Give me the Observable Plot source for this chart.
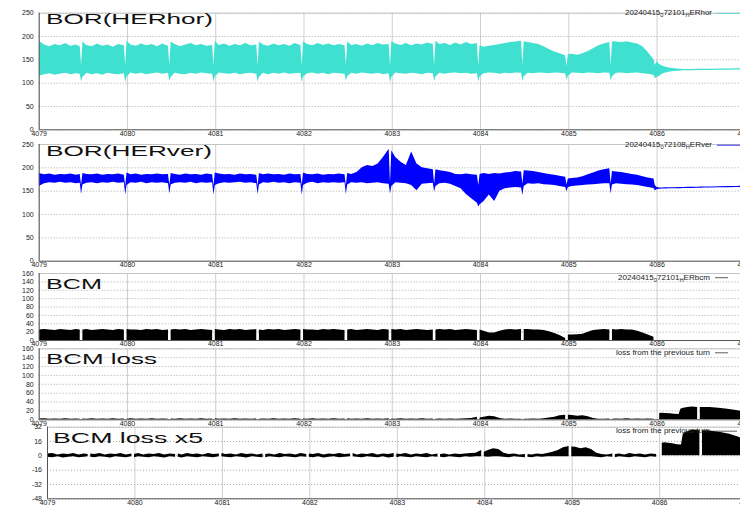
<!DOCTYPE html>
<html><head><meta charset="utf-8">
<script src="https://cdn.jsdelivr.net/npm/d3@7"></script>
<script src="https://cdn.jsdelivr.net/npm/@observablehq/plot@0.6"></script>
<style>
html,body{margin:0;padding:0;background:#fff;overflow:hidden;}
#wrap{position:relative;width:740px;height:507px;overflow:hidden;background:#fff;}
#wrap svg{position:absolute;left:0;}
</style></head><body><div id="wrap"></div>
<script>
// ---- data ----
const xTicks = [4079,4080,4081,4082,4083,4084,4085,4086,4087];
const borTicks = [0,50,100,150,200,250];
const bcmTicks = [0,20,40,60,80,100,120,140,160];
const x5Ticks = [-48,-32,-16,0,16,32];
const titles = ["BOR(HERhor)","BOR(HERver)","BCM","BCM loss","BCM loss x5"];
const legendLabels = ["20240415_072101_HERhor","20240415_072108_HERver","20240415_072101_HERbcm","loss from the previous turn","loss from the previous turn"];

const turn = [
 4079.00,4079.06,4079.12,4079.18,4079.24,4079.30,4079.36,4079.42,4079.465,
 4079.48,4079.495,4079.54,4079.60,4079.66,4079.72,4079.78,4079.84,4079.90,4079.965,
 4079.98,4079.995,4080.04,4080.10,4080.16,4080.22,4080.28,4080.34,4080.40,4080.465,
 4080.48,4080.495,4080.54,4080.60,4080.66,4080.72,4080.78,4080.84,4080.90,4080.965,
 4080.98,4080.995,4081.04,4081.10,4081.16,4081.22,4081.28,4081.34,4081.40,4081.465,
 4081.48,4081.495,4081.54,4081.60,4081.66,4081.72,4081.78,4081.84,4081.90,4081.965,
 4081.98,4081.995,4082.04,4082.10,4082.16,4082.22,4082.28,4082.34,4082.40,4082.465,
 4082.48,4082.495,4082.54,4082.60,4082.66,4082.72,4082.78,4082.84,4082.90,4082.965,
 4082.98,4082.995,4083.04,4083.10,4083.16,4083.22,4083.28,4083.34,4083.40,4083.465,
 4083.48,4083.495,4083.54,4083.60,4083.66,4083.72,4083.78,4083.84,4083.90,4083.965,
 4083.98,4083.995,4084.04,4084.10,4084.16,4084.22,4084.28,4084.34,4084.40,4084.465,
 4084.48,4084.495,4084.54,4084.60,4084.66,4084.72,4084.78,4084.84,4084.90,4084.965,
 4084.98,4084.995,4085.04,4085.10,4085.16,4085.22,4085.28,4085.34,4085.40,4085.465,
 4085.48,4085.495,4085.54,4085.60,4085.66,4085.72,4085.78,4085.84,4085.90,4085.965,
 4085.98,
 4086.00,4086.03,4086.06,4086.10,4086.15,4086.20,4086.25,4086.27,4086.30,4086.35,4086.40,4086.46,4086.47,4086.49,4086.55,4086.60,4086.70,4086.80,4086.90,4087.00,4087.10
];

const horHi = [
 190,182,178,183,180,185,179,182,178,
 138,188,181,178,184,179,182,177,183,180,
 136,190,182,179,184,180,183,178,184,179,
 138,188,183,178,182,185,180,183,179,181,
 137,190,181,184,179,183,180,185,180,182,
 136,188,182,179,184,180,183,179,185,181,
 137,189,183,180,185,181,184,180,183,180,
 138,188,181,183,179,184,180,185,182,183,
 137,189,184,181,185,180,184,182,186,183,
 138,190,183,185,181,186,182,187,183,185,
 136,180,177,179,181,183,185,187,188,190,
 138,189,187,185,183,178,172,167,163,159,
 135,161,162,160,163,168,174,180,184,187,
 136,189,188,187,189,186,184,178,166,150,
 138,
 146,140,137,134,132,131,130,130,129.5,129.5,129.5,129.8,129.8,129.8,130,130,130.3,130.5,130.8,131,131
];
const horLo = [
 115,118,120,117,119,121,118,120,119,
 103,112,121,118,120,117,121,119,118,120,
 101,113,122,119,121,118,120,122,119,121,
 104,112,121,119,118,121,119,122,120,119,
 102,114,122,120,119,121,118,120,121,119,
 103,112,121,118,121,119,122,119,120,121,
 101,113,120,122,119,121,118,121,120,119,
 104,114,121,119,122,120,119,121,118,120,
 101,112,122,120,119,121,120,118,121,120,
 104,113,121,119,121,122,120,121,119,120,
 103,113,120,122,121,119,121,120,122,121,
 104,114,121,120,122,121,120,122,121,120,
 106,115,122,121,120,122,121,120,122,121,
 105,114,121,122,120,121,122,120,119,117,
 110,
 112,115,119,122,124,125,125.5,126,126.5,126.5,126.7,127,127,127,127.2,127.3,127.6,127.8,128,128.3,128.3
];
const verHi = [
 188,185,187,184,186,185,187,184,186,
 162,188,186,185,187,184,186,185,187,184,
 160,189,185,187,184,186,185,187,185,186,
 162,188,186,184,187,185,186,184,187,185,
 161,189,187,185,186,184,187,185,186,184,
 160,188,185,187,185,186,184,187,185,186,
 162,189,186,185,187,184,186,185,187,185,
 161,188,186,190,200,205,203,208,222,240,
 168,236,222,212,205,234,208,200,198,196,
 165,196,194,192,190,186,185,187,185,184,
 162,186,188,186,188,187,189,190,192,191,
 165,194,193,192,190,188,186,184,182,180,
 163,176,177,178,181,185,189,193,196,198,
 165,192,191,190,188,186,184,181,178,176,
 162,
 158,157,157,157.2,157.4,157.6,157.8,157.8,158,158.2,158.4,158.6,158.6,158.7,159,159.2,159.5,159.8,160.2,160.5,160.6
];
const verLo = [
 160,166,168,167,169,167,168,166,167,
 143,163,167,168,166,168,167,169,167,168,
 142,162,168,167,169,166,168,167,168,166,
 144,163,167,168,167,169,166,168,167,168,
 142,162,166,168,167,168,169,167,168,166,
 143,163,168,167,169,167,168,166,168,167,
 142,162,167,169,166,168,167,168,167,168,
 143,163,168,167,168,166,167,168,166,165,
 144,160,168,167,166,162,151,165,166,167,
 148,160,166,167,165,160,155,143,134,124,
 116,121,128,142,128,150,155,157,158,157,
 141,160,166,165,166,164,163,162,160,158,
 149,158,160,161,162,163,164,165,166,166,
 144,163,166,165,164,163,162,160,158,156,
 151,
 153,154,154.5,154.8,155,155.2,155.4,155.4,155.6,155.8,156,156.2,156.2,156.3,156.6,156.8,157.1,157.4,157.8,158.1,158.2
];
const bcm = [
 25,26,25,24,26,25,24,26,25,
 null,25,26,24,25,26,25,24,26,25,
 null,26,25,25,24,26,25,26,24,25,
 null,25,26,25,26,24,25,26,25,24,
 null,26,25,24,26,25,26,24,25,26,
 null,25,24,26,25,26,24,25,26,25,
 null,26,25,25,24,26,25,26,25,24,
 null,25,26,24,25,26,25,24,26,25,
 null,26,25,26,24,25,26,25,24,25,
 null,25,26,25,26,24,25,26,25,24,
 null,25,22,18,18,22,25,26,25,26,
 null,26,26,25,25,24,21,17,12,5,
 null,13,13,14,15,20,24,25,26,25,
 null,26,25,26,25,25,22,18,13,8,
 null,
 null,null,null,null,null,null,null,null,null,null,null,null,null,null,null,null,null,null,null,null,null
];
const lossHi = [
 2,2.5,1,2,1.5,2.5,1,2,1.5,
 null,2,1.5,2.5,1,2,1.5,2.5,1,2,
 null,1.5,2.5,1,2,1.5,2.5,1,2,1.5,
 null,2,1,2.5,1.5,2,1,2.5,1.5,2,
 null,2.5,1.5,2,1,2.5,1.5,2,1,2,
 null,1.5,2,1,2.5,1.5,2,1,2.5,1.5,
 null,2,1.5,2.5,1,2,1.5,2.5,1.5,2,
 null,2.5,1,2,1.5,2.5,1,2,1.5,2.5,
 null,2,1.5,2.5,1,2,1.5,2.5,1,2,
 null,1.5,2,1,2,1.5,2,2.5,3,6,
 null,4,6,8,7,3,1.5,2,1,1.5,
 null,1.5,1,2,1.5,2.5,4,6,9,10.5,
 null,10,9.5,8,9,7,3,1.5,1,2,
 null,1.5,2,1,2.5,1.5,2,1,2,1.5,
 null,
 null,14,14.5,14,13.5,12.5,12,24,26,28,29,28,null,28,28,27.5,26,24,21,17,15
];
const lossLo = [
 -1.5,-2,-1,-2.5,-1.5,-1,-2,-1.5,-1,
 null,-1.5,-2,-1,-1.5,-2.5,-1,-1.5,-2,-1,
 null,-2,-1,-1.5,-2,-1,-1.5,-2.5,-1,-1.5,
 null,-1.5,-2.5,-1,-1.5,-2,-1,-1.5,-2,-1,
 null,-1,-1.5,-2,-1,-1.5,-2.5,-1,-1.5,-2,
 null,-2,-1,-1.5,-2,-1,-1.5,-2,-1,-1.5,
 null,-1.5,-2,-1,-2.5,-1.5,-1,-2,-1.5,-1,
 null,-1,-1.5,-2,-1,-1.5,-2,-1,-2.5,-1.5,
 null,-2,-1,-1.5,-2,-1,-1.5,-2,-1,-1.5,
 null,-1.5,-2,-1,-1.5,-2,-1,-1.5,-1,-1,
 null,-1,-1.5,-1,-1,-1.5,-2,-1,-1.5,-2,
 null,-1.5,-2,-1,-1.5,-1,-1,-1,-1,-1,
 null,-1,-1,-1,-1,-1,-1.5,-2,-1,-1.5,
 null,-2,-1,-1.5,-2,-1,-1.5,-2,-1,-1.5,
 null,
 null,0,0,0,0,0,0,0,0,0,0,0,null,0,0,0,0,0,0,0,0
];

const rows = turn.map((t, i) => ({t, horHi: horHi[i], horLo: horLo[i], verHi: verHi[i], verLo: verLo[i], bcm: bcm[i], lossHi: lossHi[i], lossLo: lossLo[i]}));

// ---- rendering ----
const FONT = "'Liberation Sans', Arial, Helvetica, sans-serif";
const wrap = document.getElementById("wrap");

function panel({top, height, mt, mb, ml, mr, yTicks, marks}) {
  const yDomain = [yTicks[0], yTicks[yTicks.length - 1]];
  const svg = Plot.plot({
    width: 750, height,
    marginTop: mt, marginBottom: mb, marginLeft: ml, marginRight: mr,
    style: {background: "transparent", maxWidth: "none", fontFamily: FONT, fontSize: "7px", color: "#222"},
    x: {domain: [xTicks[0], xTicks[xTicks.length - 1]], label: null},
    y: {domain: yDomain, label: null},
    marks: [
      Plot.gridX(xTicks, {stroke: "#cfcfcf", strokeOpacity: 1}),
      Plot.gridY(yTicks, {stroke: "#a8a8a8", strokeOpacity: 1, strokeDasharray: "1,2"}),
      ...marks,
      Plot.ruleY([yDomain[1]], {stroke: "#c4c4c4"}),
      Plot.ruleY([yDomain[0]], {stroke: "#555"}),
      Plot.ruleX([xTicks[0]], {stroke: "#555"}),
      Plot.axisX(xTicks, {label: null, tickSize: 0, tickPadding: 1, tickFormat: d => String(d), fill: "#222"}),
      Plot.axisY(yTicks, {label: null, tickSize: 0, tickPadding: 5.5, tickFormat: d => String(d), fill: "#222"})
    ]
  });
  svg.style.top = top + "px";
  wrap.appendChild(svg);
}

panel({top: 0, height: 140, mt: 12.7, mb: 10.7, ml: 38.7, mr: 5.2, yTicks: borTicks,
  marks: [Plot.areaY(rows, {x: "t", y1: "horLo", y2: "horHi", fill: "#40e0d0", clip: true})]});
panel({top: 132, height: 140, mt: 12, mb: 11.3, ml: 38.7, mr: 5.2, yTicks: borTicks,
  marks: [Plot.areaY(rows, {x: "t", y1: "verLo", y2: "verHi", fill: "#0000ff", clip: true})]});
panel({top: 262, height: 88, mt: 11, mb: 10, ml: 38.7, mr: 5.2, yTicks: bcmTicks,
  marks: [Plot.areaY(rows, {x: "t", y1: 0, y2: "bcm", fill: "#000", clip: true})]});
panel({top: 338, height: 92, mt: 10.3, mb: 10.7, ml: 38.7, mr: 5.2, yTicks: bcmTicks,
  marks: [Plot.areaY(rows, {x: "t", y1: "lossLo", y2: "lossHi", fill: "#000", clip: true})]});
panel({top: 416, height: 91, mt: 10.7, mb: 8.7, ml: 47, mr: 3.4, yTicks: x5Ticks,
  marks: [Plot.areaY(rows, {x: "t", y1: "lossLo", y2: "lossHi", fill: "#000", clip: true})]});

// ---- titles and keys overlay ----
const ov = d3.select(wrap).append("svg").attr("width", 740).attr("height", 507).style("top", "0px");
const titlePos = [{x: 46, y: 23.5, w: 167}, {x: 46, y: 155.7, w: 166}, {x: 46, y: 288.5, w: 56}, {x: 46, y: 364, w: 111}, {x: 53, y: 442.5, w: 150}];
titles.forEach((s, i) => {
  const p = titlePos[i];
  ov.append("text").attr("x", p.x).attr("y", p.y).attr("font-family", FONT).attr("font-size", 15)
    .attr("fill", "#111").attr("textLength", p.w).attr("lengthAdjust", "spacingAndGlyphs").text(s);
});
const keyPos = [
  {x: 625, y: 15, w: 87, c: "#40e0d0", l1: 717, l2: 745, ly: 13.3},
  {x: 625, y: 147.3, w: 87, c: "#0000ff", l1: 717, l2: 745, ly: 145.2},
  {x: 618, y: 280, w: 92, c: "#333", l1: 715, l2: 728, ly: 277.7},
  {x: 616, y: 355, w: 94, c: "#333", l1: 715, l2: 728, ly: 352.8},
  {x: 616, y: 433, w: 94, c: "#333", l1: 713, l2: 737, ly: 431.2}
];
legendLabels.forEach((s, i) => {
  const p = keyPos[i];
  const t = ov.append("text").attr("x", p.x).attr("y", p.y).attr("font-family", FONT).attr("font-size", 7)
    .attr("fill", "#222").attr("textLength", p.w).attr("lengthAdjust", "spacingAndGlyphs");
  const parts = s.split("_");
  t.append("tspan").text(parts[0]);
  for (let k = 1; k < parts.length; k++) {
    t.append("tspan").attr("dy", 1.6).attr("font-size", 5).text(parts[k][0]);
    t.append("tspan").attr("dy", -1.6).text(parts[k].slice(1));
  }
  ov.append("line").attr("x1", p.l1).attr("x2", p.l2).attr("y1", p.ly).attr("y2", p.ly)
    .attr("stroke", p.c).attr("stroke-width", 0.8);
});
</script></body></html>
